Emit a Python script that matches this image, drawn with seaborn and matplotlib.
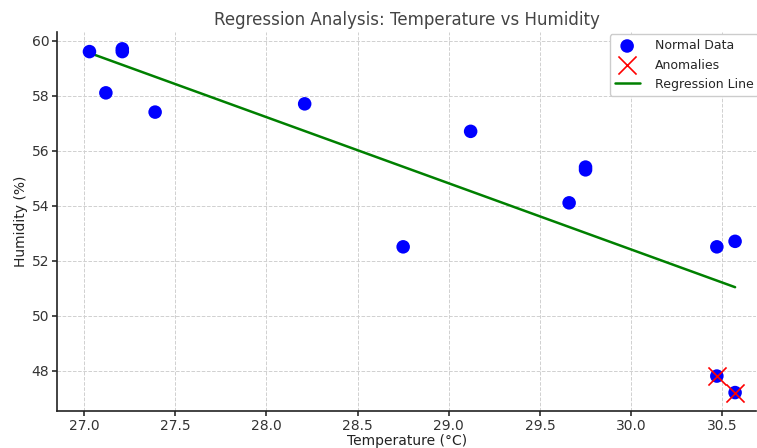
import numpy as np
import pandas as pd
import matplotlib
matplotlib.use("Agg")
import matplotlib.pyplot as plt
import seaborn as sns

# 読み取った値
temperature = [27.03, 27.21, 27.21, 27.12, 27.39, 28.21, 28.75, 29.12,
               29.75, 29.75, 29.66, 30.47, 30.57, 30.47, 30.57]
humidity = [59.6, 59.7, 59.6, 58.1, 57.4, 57.7, 52.5, 56.7,
            55.4, 55.3, 54.1, 52.5, 52.7, 47.8, 47.2]
is_anomaly = [False] * 13 + [True, True]

df = pd.DataFrame({"Temperature": temperature, "Humidity": humidity,
                   "Anomaly": is_anomaly})
anom = df[df["Anomaly"]]

sns.set_theme(style="whitegrid", rc={
    "grid.linestyle": "--",
    "grid.color": "#d0d0d0",
    "grid.linewidth": 0.7,
    "axes.edgecolor": "#222222",
    "axes.linewidth": 1.2,
    "xtick.bottom": True,
    "ytick.left": True,
    "xtick.major.size": 3.5,
    "ytick.major.size": 3.5,
    "xtick.major.pad": 2,
    "ytick.major.pad": 2,
    "xtick.color": "#333333",
    "ytick.color": "#333333",
})
plt.rcParams["font.family"] = ["DejaVu Sans"]

fig, ax = plt.subplots(figsize=(7.57, 4.48), dpi=100)
fig.subplots_adjust(left=0.0753, right=0.999, top=0.929, bottom=0.0826)

sns.scatterplot(data=df, x="Temperature", y="Humidity", color="blue",
                s=95, edgecolor="none", label="Normal Data", ax=ax, zorder=3)
sns.scatterplot(data=anom, x="Temperature", y="Humidity", color="red",
                marker="x", s=170, linewidth=1.2, label="Anomalies", ax=ax,
                zorder=4)
sns.regplot(data=df, x="Temperature", y="Humidity", scatter=False, ci=None,
            truncate=True, color="green", line_kws={"linewidth": 1.8},
            label="Regression Line", ax=ax)

ax.set_xlim(26.852, 30.686)
ax.set_ylim(46.53, 60.32)
ax.set_xticks([27.0, 27.5, 28.0, 28.5, 29.0, 29.5, 30.0, 30.5])
ax.set_yticks([48, 50, 52, 54, 56, 58, 60])
ax.tick_params(labelsize=10)
for side in ["top", "right"]:
    ax.spines[side].set_visible(False)

ax.set_title("Regression Analysis: Temperature vs Humidity", fontsize=12,
             color="#444444", pad=5)
ax.set_xlabel("Temperature (°C)", fontsize=10, color="#222222", labelpad=1)
ax.set_ylabel("Humidity (%)", fontsize=10, color="#222222", labelpad=3)
ax.legend(loc="upper right", fontsize=9, frameon=True, framealpha=1,
          edgecolor="#cccccc", bbox_to_anchor=(1.012, 1.01),
          handletextpad=1.2)

fig.savefig("out.png", dpi=100)
